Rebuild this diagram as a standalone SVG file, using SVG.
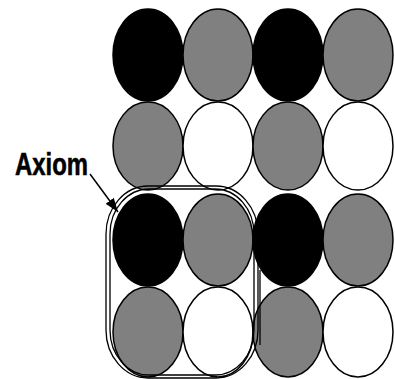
<svg xmlns="http://www.w3.org/2000/svg" width="395" height="379" viewBox="0 0 395 379">
  <style>
    .c { stroke: #000; stroke-width: 1.5; }
    .blk { fill: #000; }
    .gry { fill: #808080; }
    .wht { fill: #fff; }
    .frame { fill: none; stroke: #000; stroke-width: 1.3; }
    .lbl { font-family: "Liberation Sans", Arial, sans-serif; font-weight: bold; font-size: 32px; fill: #000; stroke: #000; stroke-width: 0.6; }
  </style>
  <defs>
    <marker id="ah" viewBox="0 0 14 10" refX="14" refY="5" markerWidth="14" markerHeight="10" orient="auto" markerUnits="userSpaceOnUse">
      <path d="M0,0 L14,5 L0,10 z" fill="#000"/>
    </marker>
  </defs>
  <rect width="395" height="379" fill="#fff"/>

  <!-- row 1 -->
  <g id="r1c1"><ellipse class="c blk" cx="148" cy="55" rx="35" ry="46"/></g>
  <g id="r1c2"><ellipse class="c gry" cx="218" cy="55" rx="35" ry="46"/></g>
  <g id="r1c3"><ellipse class="c blk" cx="288" cy="55" rx="35" ry="46"/></g>
  <g id="r1c4"><ellipse class="c gry" cx="358" cy="55" rx="35" ry="46"/></g>
  <!-- row 2 -->
  <g id="r2c1"><ellipse class="c gry" cx="148" cy="146" rx="35" ry="44"/></g>
  <g id="r2c2"><ellipse class="c wht" cx="218" cy="146" rx="35" ry="44"/></g>
  <g id="r2c3"><ellipse class="c gry" cx="288" cy="146" rx="35" ry="44"/></g>
  <g id="r2c4"><ellipse class="c wht" cx="358" cy="146" rx="35" ry="44"/></g>
  <!-- row 3 -->
  <g id="r3c1"><ellipse class="c blk" cx="148" cy="240" rx="35" ry="46"/></g>
  <g id="r3c2"><ellipse class="c gry" cx="218" cy="240" rx="35" ry="46"/></g>
  <g id="r3c3"><ellipse class="c blk" cx="288" cy="240" rx="35" ry="46"/></g>
  <g id="r3c4"><ellipse class="c gry" cx="358" cy="240" rx="35" ry="46"/></g>
  <!-- row 4 -->
  <g id="r4c1"><ellipse class="c gry" cx="148" cy="332" rx="35" ry="45"/></g>
  <g id="r4c2"><ellipse class="c wht" cx="218" cy="332" rx="35" ry="45"/></g>
  <g id="r4c3"><ellipse class="c gry" cx="288" cy="332" rx="35" ry="45"/></g>
  <g id="r4c4"><ellipse class="c wht" cx="358" cy="332" rx="35" ry="45"/></g>

  <!-- axiom frame -->
  <g id="axiom-frame">
    <rect class="frame" x="106" y="186" width="152" height="192" rx="42" ry="48"/>
    <rect class="frame" x="110" y="189" width="144" height="186" rx="39" ry="45"/>
    <line class="frame" x1="260" y1="270" x2="260" y2="345"/>
  </g>

  <g id="axiom-label">
    <text class="lbl" x="15" y="175" textLength="73" lengthAdjust="spacingAndGlyphs">Axiom</text>
  </g>

  <g id="connectors">
    <line x1="90" y1="174" x2="118" y2="212" stroke="#000" stroke-width="1.5" marker-end="url(#ah)"/>
  </g>
</svg>
